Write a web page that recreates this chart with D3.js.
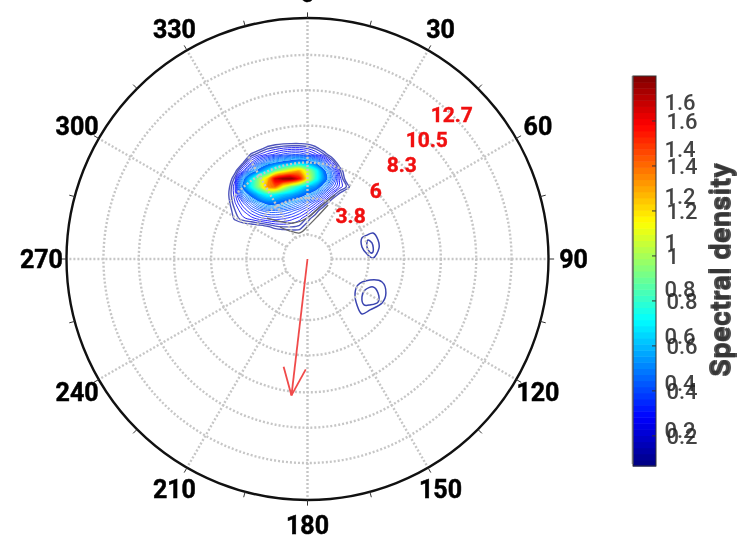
<!DOCTYPE html>
<html><head><meta charset="utf-8">
<style>html,body{margin:0;padding:0;background:#fff}svg{display:block;filter:blur(.45px)}text{font-family:Roboto,sans-serif}</style>
<script src="https://cdn.jsdelivr.net/npm/d3@7"></script></head><body>
<svg id="c" width="739" height="542"></svg>
<script>
// ---- data ----
const angleTicks = [0,30,60,90,120,150,180,210,240,270,300,330];
const minorAngles = [15,45,75,105,135,165,195,225,255,285,315,345];
const ringValues = [1.5,3.8,6,8.3,10.5,12.7,15];
const ringLabels = ["3.8","6","8.3","10.5","12.7"];
const ringLabelValues = [3.8,6,8.3,10.5,12.7];
const ringLabelBearing = 45;
const colorTicks = [0.2,0.4,0.6,0.8,1,1.2,1.4,1.6];
const arrowBearing = 186.7, arrowLength = 8.55, barbLength = 1.85, barbSpread = 22;
// Spectrum sampled on an east / north grid, same units as the rings
const gridEast0 = -5, gridNorth0 = 7.5, gridStep = 0.5;
const densityGrid = [
[0,0,0,0,0,0,0,0,0,0,0,0,0,0,0,0,0],
[0,0,0,0,.02,.07,.09,.105,.11,.11,.10,.07,.01,0,0,0,0],
[0,0,0,.08,.13,.17,.2,.23,.25,.25,.22,.17,.11,.03,0,0,0],
[0,0,.07,.19,.29,.37,.45,.5,.55,.6,.55,.45,.3,.15,.02,0,0],
[0,.05,.19,.36,.52,.7,.92,1.08,1.22,1.3,1.05,.8,.5,.3,.11,0,0],
[0,.12,.42,.7,1.0,1.25,1.68,1.8,1.8,1.6,1.15,.8,.55,.34,.15,.02,0],
[.03,.16,.5,.75,1.0,1.35,1.45,1.15,.92,.76,.62,.55,.4,.25,.15,.09,0],
[.05,.15,.35,.5,.65,.75,.72,.65,.6,.52,.44,.35,.24,.13,.05,0,0],
[.04,.13,.22,.32,.42,.5,.5,.45,.4,.34,.27,.2,.12,.03,0,0,0],
[.03,.1,.16,.22,.27,.3,.3,.29,.26,.22,.17,.1,.02,0,0,0,0],
[.02,.08,.12,.14,.17,.19,.2,.19,.17,.14,.09,.03,0,0,0,0,0],
[0,.01,.02,.03,.04,.06,.09,.1,.1,.09,.04,0,0,0,0,0,0],
[0,0,0,0,0,0,0,.01,.02,.03,0,0,0,0,0,0,0]
];
const lineLevels = [.07,.1,.13,.16,.19,.22,.25,.28,.31,.34,.37,.4,.43];
const fillLevels = [.45,.48,.52,.56,.6,.64,.68,.72,.76,.8,.84,.88,.92,.96,1,1.04,1.08,1.12,1.16,1.2,1.24,1.28,1.32,1.36,1.4,1.44,1.48,1.52,1.56,1.6,1.64,1.68,1.72,1.76];
const swellAOuter = [[3.39,1.31],[3.70,1.49],[4.08,1.62],[4.39,1.18],[4.45,.68],[4.08,.06],[3.76,.25],[3.39,.75]];
const swellAInner = [[3.76,1.18],[4.01,1.0],[4.08,.44],[3.95,.37],[3.70,.75]];
const swellBOuter = [[2.96,-2.12],[3.14,-1.62],[3.89,-1.31],[4.64,-1.43],[4.88,-2.12],[4.64,-2.74],[3.89,-3.17],[3.39,-3.42],[3.08,-2.86]];
const swellBInner = [[3.39,-2.36],[3.58,-1.93],[4.08,-1.74],[4.39,-2.12],[4.39,-2.68],[3.89,-2.86],[3.52,-2.86]];
const greyEdgeA = [[-1.71,1.99],[-1.09,1.74],[-.47,1.62],[-.03,1.99],[.65,2.68],[1.28,3.36]];
const greyEdgeB = [[-2.52,2.55],[-.9,2.24],[-.03,2.55],[.9,3.36],[1.71,3.98]];
const barMin = 0.066, barMax = 1.8, barSteps = 64;
const colorTitle = "Spectral density";

// ---- layout ----
const cx = 307.5, cy = 259, R = 241;
const svg = d3.select("#c");
const rScale = d3.scaleLinear().domain([0,15]).range([0,R]);
const xScale = d3.scaleLinear().domain([0,15]).range([cx,cx+R]);
const yScale = d3.scaleLinear().domain([0,15]).range([cy,cy-R]);
const polar = (b,v)=>[cx+rScale(v)*Math.sin(b*Math.PI/180), cy-rScale(v)*Math.cos(b*Math.PI/180)];

const jetStops = ["#00007f","#0000ff","#007fff","#00ffff","#7fff7f","#ffff00","#ff7f00","#ff0000","#7f0000"];
const jet = d3.scaleLinear().domain(d3.range(9).map(i=>i/8)).range(jetStops).clamp(true);
const colorOf = d3.scaleLinear().domain([barMin,barMax]).range([0,1]);

// ---- contours ----
const nRows = densityGrid.length, nCols = densityGrid[0].length;
const flat = densityGrid.flat();
const contour = d3.contours().size([nCols,nRows]);
const gx = i => xScale(gridEast0 + (i-.5)*gridStep);
const gy = j => yScale(gridNorth0 - (j-.5)*gridStep);
const ringLine = d3.line().x(p=>gx(p[0])).y(p=>gy(p[1])).curve(d3.curveCatmullRomClosed.alpha(.5));
const ringPath = g => g.coordinates.map(poly=>poly.map(r=>ringLine(r.slice(0,-1))).join("")).join("");
const gC = svg.append("g");
contour.thresholds(fillLevels)(flat).forEach(g=>{
  gC.append("path").attr("d",ringPath(g)).attr("fill",jet(colorOf(g.value))).attr("stroke","none");
});
contour.thresholds(lineLevels)(flat).forEach((g,i)=>{
  gC.append("path").attr("d",ringPath(g)).attr("fill","none")
    .attr("stroke",i<2?"#2f36b0":jet(colorOf(g.value)+.07)).attr("stroke-width",i<2?1.4:1).attr("stroke-opacity",.85);
});
const closedLine = d3.line().x(p=>xScale(p[0])).y(p=>yScale(p[1])).curve(d3.curveCatmullRomClosed.alpha(.5));
[swellAOuter,swellAInner,swellBOuter,swellBInner].forEach(s=>{
  gC.append("path").attr("d",closedLine(s)).attr("fill","none").attr("stroke","#3a44b0").attr("stroke-width",1.5);
});
const openLine = d3.line().x(p=>xScale(p[0])).y(p=>yScale(p[1])).curve(d3.curveCatmullRom);
[greyEdgeA,greyEdgeB].forEach(s=>{
  gC.append("path").attr("d",openLine(s)).attr("fill","none").attr("stroke","#666").attr("stroke-width",1.3);
});

// ---- polar grid ----
const gG = svg.append("g").attr("fill","none").attr("stroke","#c6c6c6").attr("stroke-width",2.4).attr("stroke-dasharray","2 2");
ringValues.slice(0,-1).forEach(v=>gG.append("circle").attr("cx",cx).attr("cy",cy).attr("r",rScale(v)));
angleTicks.forEach(a=>{
  const [x1,y1]=polar(a,ringValues[0]), [x2,y2]=polar(a,15);
  gG.append("line").attr("x1",x1).attr("y1",y1).attr("x2",x2).attr("y2",y2);
});
svg.append("circle").attr("cx",cx).attr("cy",cy).attr("r",R).attr("fill","none").attr("stroke","#111").attr("stroke-width",2.4);
const gT = svg.append("g").attr("stroke","#333").attr("stroke-width",1);
angleTicks.concat(minorAngles).forEach(a=>{
  const [x1,y1]=polar(a,15), [x2,y2]=polar(a,15.35);
  gT.append("line").attr("x1",x1).attr("y1",y1).attr("x2",x2).attr("y2",y2);
});
angleTicks.forEach(a=>{
  const [x,y]=polar(a,16.56);
  svg.append("text").attr("x",x).attr("y",y).attr("dy","0.36em").attr("text-anchor","middle")
    .attr("font-size",25).attr("font-weight",700).attr("fill","#000").attr("stroke","#000").attr("stroke-width",.5).text(a);
});
ringLabels.forEach((t,i)=>{
  const [x,y]=polar(ringLabelBearing,ringLabelValues[i]);
  svg.append("text").attr("x",x).attr("y",y).attr("dy","0.36em").attr("text-anchor","middle")
    .attr("font-size",21).attr("font-weight",700).attr("fill","#f01010").attr("stroke","#f01010").attr("stroke-width",.4).text(t);
});

// ---- arrow ----
const tip = polar(arrowBearing,arrowLength);
const gA = svg.append("g").attr("stroke","#f04a4a").attr("stroke-width",1.8).attr("fill","none");
const toXY = (b,l)=>[tip[0]+rScale(l)*Math.sin(b*Math.PI/180), tip[1]-rScale(l)*Math.cos(b*Math.PI/180)];
const base = polar(arrowBearing,0);
gA.append("line").attr("x1",base[0]).attr("y1",base[1]).attr("x2",tip[0]).attr("y2",tip[1]);
[-barbSpread,barbSpread].forEach(d=>{
  const p=toXY(arrowBearing+180+d,barbLength);
  gA.append("line").attr("x1",tip[0]).attr("y1",tip[1]).attr("x2",p[0]).attr("y2",p[1]);
});

// ---- colour bar ----
const bx=633,bw=23,by0=466,by1=76;
const barY = d3.scaleLinear().domain([barMin,barMax]).range([by0,by1]);
const ghostY = d3.scaleLinear().domain([0.2,1.6]).range([430,102]);
const steps = d3.range(barSteps);
const stepV = i=>barMin+(barMax-barMin)*i/barSteps;
svg.append("g").selectAll("rect").data(steps).join("rect")
  .attr("x",bx).attr("width",bw)
  .attr("y",i=>barY(stepV(i+1))).attr("height",i=>barY(stepV(i))-barY(stepV(i+1))+.5)
  .attr("fill",i=>jet((i+.5)/barSteps));
svg.append("rect").attr("x",bx).attr("y",by1).attr("width",bw).attr("height",by0-by1)
  .attr("fill","none").attr("stroke","#333").attr("stroke-width",1);
svg.append("line").attr("x1",bx-.5).attr("x2",bx-.5).attr("y1",by1).attr("y2",by0-2).attr("stroke","#777").attr("stroke-width",1.5);
colorTicks.forEach(v=>{
  svg.append("line").attr("x1",bx+bw-4).attr("x2",bx+bw).attr("y1",barY(v)).attr("y2",barY(v)).attr("stroke","#333");
  [[666.5,barY(v)],[664.5,ghostY(v)]].forEach(([x,y])=>{
    svg.append("text").attr("x",x).attr("y",y).attr("dy","0.36em").attr("font-size",22).attr("font-weight",500)
      .attr("fill","#222").attr("fill-opacity",.85).text(v);
  });
});
[[729,270],[731,270]].forEach(([x,y])=>{
  svg.append("text").attr("transform",`translate(${x},${y}) rotate(-90)`).attr("text-anchor","middle")
    .attr("font-size",27).attr("font-weight",700).attr("fill","#333").attr("fill-opacity",.85)
    .attr("textLength",214).attr("lengthAdjust","spacingAndGlyphs").text(colorTitle);
});
</script></body></html>
